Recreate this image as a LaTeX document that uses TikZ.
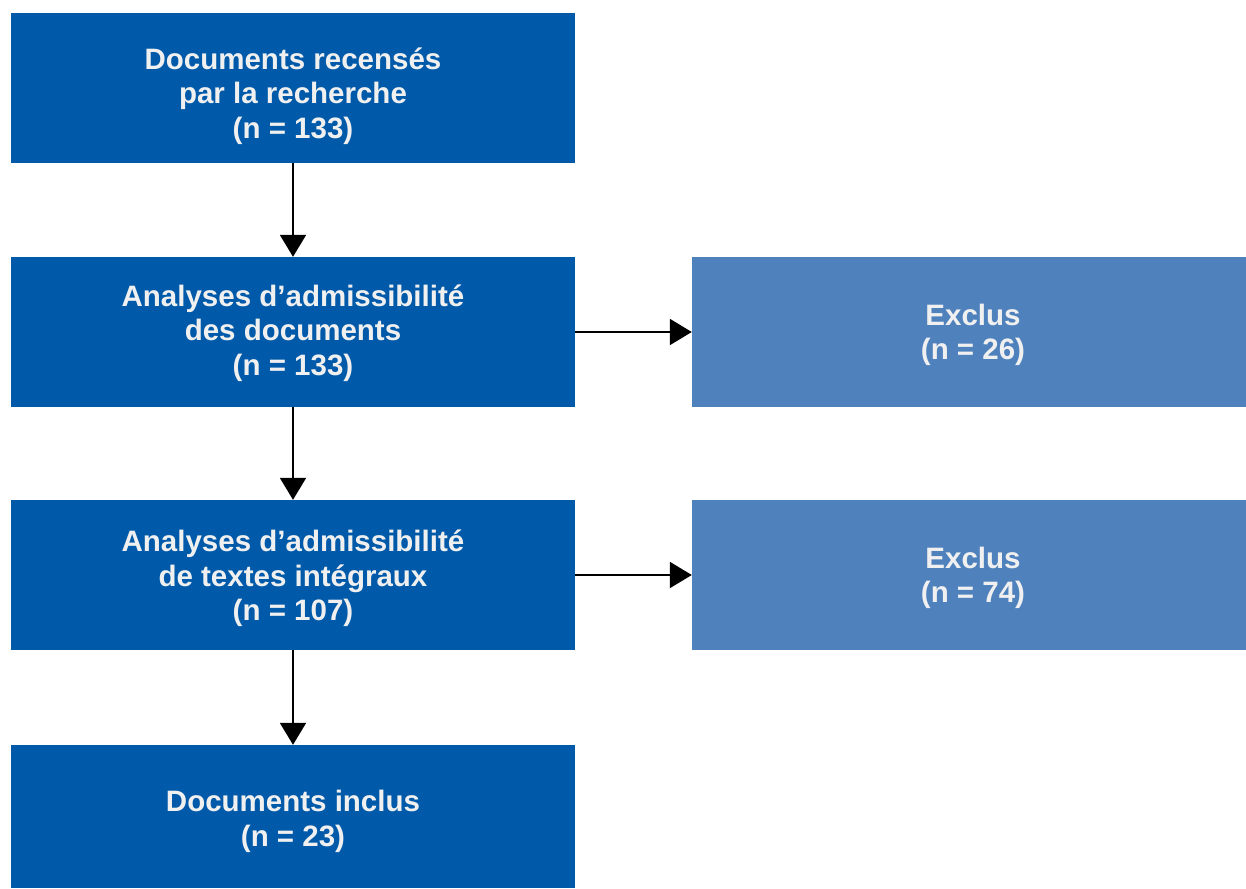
\documentclass[tikz,border=0pt]{standalone}
\usepackage{fontspec}
\setmainfont{Liberation Sans}
\usetikzlibrary{arrows.meta}
\definecolor{darkblue}{HTML}{005AA9}
\definecolor{lightblue}{HTML}{4F81BD}
\definecolor{boxtext}{HTML}{F0F0F0}
\begin{document}
\begin{tikzpicture}[x=1pt,y=-1pt,
  box/.style={draw=none, minimum width=564pt, minimum height=150pt, inner sep=0pt},
  lbl/.style={inner sep=0pt, text=boxtext, font=\fontsize{29.5}{34.5}\selectfont\bfseries, align=center},
  mainbox/.style={box, fill=darkblue},
  sidebox/.style={box, fill=lightblue, minimum width=554pt},
  arr/.style={line width=2pt, -{Triangle[length=22pt,width=26pt]}}]
\useasboundingbox (0,0) rectangle (1246,888);
\node[mainbox, label={[lbl, yshift=-8pt]center:{Documents recensés\\par la recherche\\(n = 133)}}] (a) at (293,88) {};
\node[mainbox, label={[lbl, yshift=-1pt]center:{Analyses d’admissibilité\\des documents\\(n = 133)}}] (b) at (293,332) {};
\node[mainbox, label={[lbl, yshift=-3.5pt]center:{Analyses d’admissibilité\\de textes intégraux\\(n = 107)}}] (c) at (293,575) {};
\node[mainbox, minimum height=143pt, label={[lbl, yshift=-5pt]center:{Documents inclus\\(n = 23)}}] (d) at (293,816.5) {};
\node[sidebox, label={[lbl, xshift=4pt, yshift=-3pt]center:{Exclus\\(n = 26)}}] (e) at (969,332) {};
\node[sidebox, label={[lbl, xshift=4pt, yshift=-3pt]center:{Exclus\\(n = 74)}}] (f) at (969,575) {};
\draw[arr] (a.south) -- (b.north);
\draw[arr] (b.south) -- (c.north);
\draw[arr] (c.south) -- (d.north);
\draw[arr] (b.east) -- (e.west);
\draw[arr] (c.east) -- (f.west);
\end{tikzpicture}
\end{document}
